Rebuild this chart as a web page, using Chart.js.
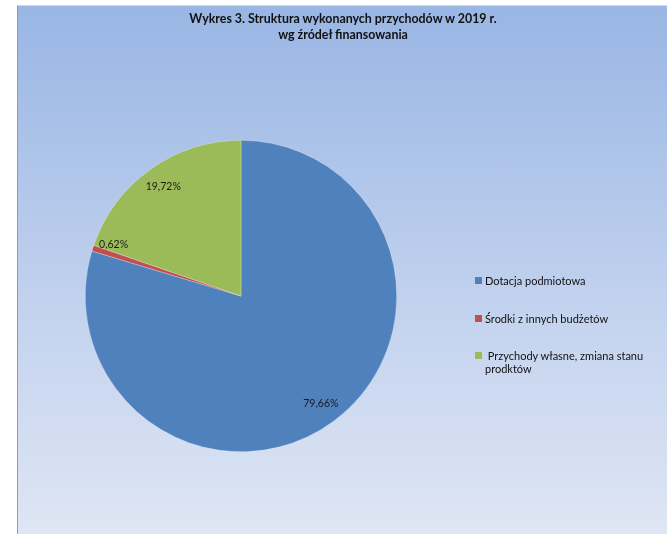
<!DOCTYPE html>
<html lang="pl">
<head>
<meta charset="utf-8">
<script src="https://cdn.jsdelivr.net/npm/chart.js@4/dist/chart.umd.min.js"></script>
<style>
  html, body { margin: 0; padding: 0; background: #fff; }
  body { width: 667px; height: 534px; position: relative; overflow: hidden; font-family: Lato, "Open Sans", sans-serif; }
  #frame {
    position: absolute; left: 17px; top: 5px; width: 650px; height: 529px;
    border-left: 1px solid #9a9a9a; border-top: 1px solid #d8d8d8;
    background: linear-gradient(to bottom, #99b6e4 0%, #c1d1ee 55%, #dfe6f4 100%);
  }
  #chartBox { position: absolute; left: 0; top: 0; width: 650px; height: 529px; }
  #title {
    position: absolute; left: 0; top: 5px; width: 650px; text-align: center;
    font-weight: bold; font-size: 12.4px; line-height: 16px; color: #111;
  }
  #legend { position: absolute; left: 457px; top: 268px; width: 190px; font-size: 11px; color: #111; }
  .item { position: relative; padding-left: 10px; line-height: 13px; }
  .box { position: absolute; left: 0; top: 3px; width: 7px; height: 7px; }
</style>
</head>
<body>
<div id="frame">
  <div id="chartBox"><canvas id="pieChart"></canvas></div>
  <div id="title"></div>
  <div id="legend"></div>
</div>
<script>
// dane z wykresu
const tytul = ["Wykres 3. Struktura wykonanych przychodów w 2019 r.", "wg źródeł finansowania"];
const kategorie = ["Dotacja podmiotowa", "Środki z innych budżetów", " Przychody własne, zmiana stanu prodktów"];
const udzialy = [79.66, 0.62, 19.72];
const kolory = ["#4f81bd", "#c0504d", "#9bbb59"];

// tytuł
document.getElementById("title").innerHTML = tytul.join("<br>");

// legenda po prawej
const legend = document.getElementById("legend");
const odstepy = [0, 25, 24];
kategorie.forEach((nazwa, i) => {
  const el = document.createElement("div");
  el.className = "item";
  el.style.marginTop = odstepy[i] + "px";
  el.innerHTML = `<span class="box" style="background:${kolory[i]}"></span>`;
  el.appendChild(document.createTextNode(nazwa));
  if (i === 2) el.style.width = "170px";
  el.style.whiteSpace = "pre-wrap";
  legend.appendChild(el);
});

// etykiety procentowe wewnątrz wycinków
const etykiety = {
  id: "etykiety",
  afterDatasetsDraw(chart) {
    const ctx = chart.ctx;
    const meta = chart.getDatasetMeta(0);
    const h = 10.5;
    ctx.save();
    ctx.font = h + "px Lato, 'Open Sans', sans-serif";
    ctx.fillStyle = "#1a1a1a";
    ctx.textAlign = "center";
    ctx.textBaseline = "middle";
    meta.data.forEach((arc, i) => {
      const p = arc.getProps(["x", "y", "startAngle", "endAngle", "outerRadius"], true);
      const mid = (p.startAngle + p.endAngle) / 2;
      const r = p.outerRadius * 0.86;
      const txt = udzialy[i].toFixed(2).replace(".", ",") + "%";
      let y = p.y + Math.sin(mid) * r;
      // za wąski wycinek - etykieta nad nim
      if ((p.endAngle - p.startAngle) * r < h) y -= h;
      ctx.fillText(txt, p.x + Math.cos(mid) * r, y);
    });
    ctx.restore();
  }
};

new Chart(document.getElementById("pieChart"), {
  type: "pie",
  data: {
    labels: kategorie,
    datasets: [{
      data: udzialy,
      backgroundColor: kolory,
      borderColor: "rgba(255,255,255,0.45)",
      borderWidth: 0.6
    }]
  },
  options: {
    responsive: true,
    maintainAspectRatio: false,
    animation: false,
    layout: { padding: { left: 67, right: 271, top: 134, bottom: 83 } },
    plugins: {
      legend: { display: false },
      tooltip: { enabled: false },
      title: { display: false }
    }
  },
  plugins: [etykiety]
});
</script>
</body>
</html>
